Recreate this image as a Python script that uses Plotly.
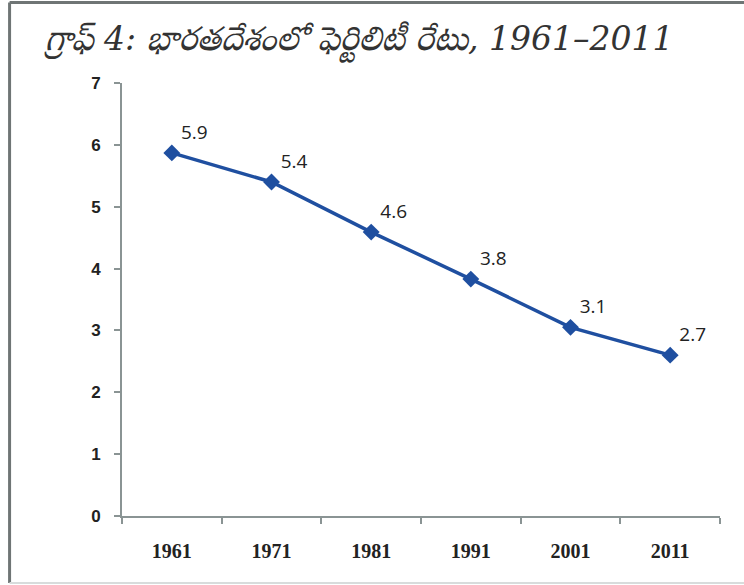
import plotly.graph_objects as go

years = ["1961", "1971", "1981", "1991", "2001", "2011"]
fertility = [5.87, 5.4, 4.59, 3.83, 3.05, 2.6]
value_labels = ["5.9", "5.4", "4.6", "3.8", "3.1", "2.7"]
y_ticks = [0, 1, 2, 3, 4, 5, 6, 7]
title_text = "గ్రాఫ్ 4: భారతదేశంలో ఫెర్టిలిటీ రేటు, 1961–2011"

fig = go.Figure()
fig.add_trace(go.Scatter(
    x=years, y=fertility, mode="lines+markers+text",
    text=value_labels, textposition="top right",
    textfont=dict(family="Open Sans, Liberation Sans, sans-serif", size=19, color="#222222"),
    line=dict(color="#1f4fa0", width=3.5),
    marker=dict(symbol="diamond", size=13, color="#1f4fa0"),
    cliponaxis=False, showlegend=False,
))

fig.update_layout(
    width=744, height=585,
    margin=dict(l=122, r=24, t=83, b=69),
    paper_bgcolor="white", plot_bgcolor="white",
    title=dict(text=title_text, x=0.06, xanchor="left", y=0.935, yanchor="middle",
               font=dict(family="DejaVu Serif, Noto Serif Telugu, Noto Sans Telugu, serif",
                         size=33, color="#333333", style="italic")),
    xaxis=dict(type="category", range=[-0.5, 5.5], showgrid=False, showline=True,
               linecolor="#8a9494", linewidth=2, ticks="outside", tickson="boundaries",
               ticklen=6, tickcolor="#8a9494", tickwidth=1.5, ticklabelstandoff=16,
               tickfont=dict(family="Liberation Serif, serif", size=20, color="#222222", weight="bold"),
               zeroline=False),
    yaxis=dict(range=[0, 7], tickvals=y_ticks, showgrid=False, showline=True,
               linecolor="#8a9494", linewidth=2, ticks="outside", ticklen=6,
               tickcolor="#8a9494", tickwidth=1.5, ticklabelstandoff=10,
               tickfont=dict(family="Liberation Sans, sans-serif", size=17, color="#222222", weight="bold"),
               zeroline=False),
    shapes=[
        dict(type="line", xref="paper", yref="paper", x0=-0.188, x1=1.05, y0=1.186, y1=1.186,
             line=dict(color="#6f7575", width=3)),
        dict(type="line", xref="paper", yref="paper", x0=-0.188, x1=-0.188, y0=1.186, y1=-0.155,
             line=dict(color="#6f7575", width=3)),
        dict(type="line", xref="paper", yref="paper", x0=-0.188, x1=1.05, y0=-0.155, y1=-0.155,
             line=dict(color="#d8dcdc", width=2)),
    ],
)

fig.write_html("out.html", config={"displayModeBar": False},
               post_script="document.body.style.margin='0';")
